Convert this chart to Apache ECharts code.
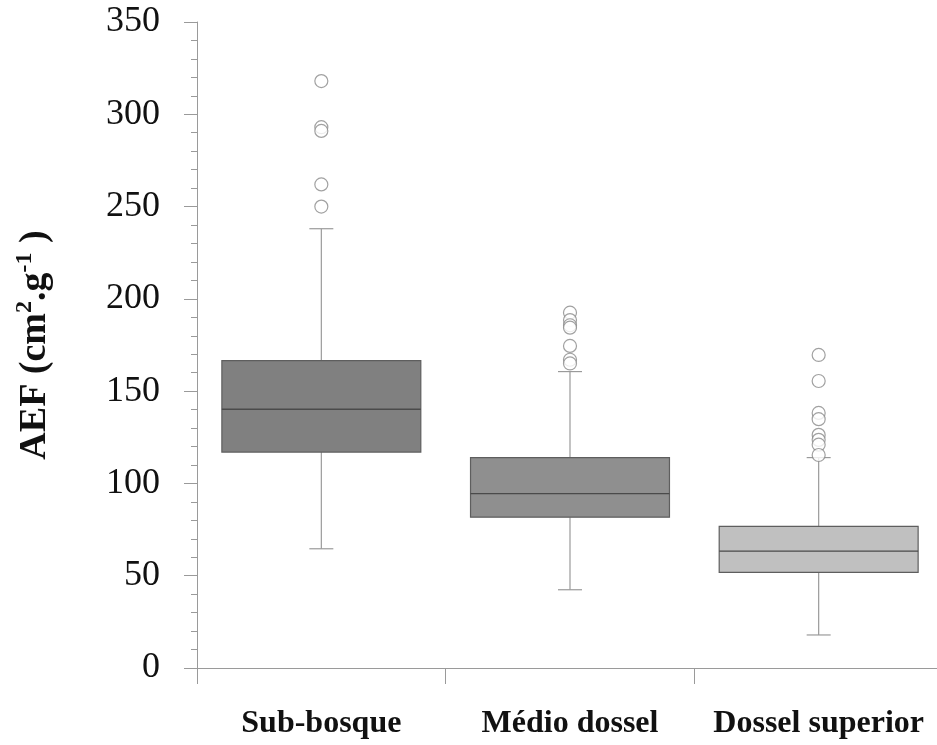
<!DOCTYPE html>
<html>
<head>
<meta charset="utf-8">
<title>AEF boxplot</title>
<script src="https://cdn.jsdelivr.net/npm/echarts@6/dist/echarts.min.js"></script>
<style>
  html, body { margin: 0; padding: 0; background: #fff; overflow: hidden; }
  #chart { width: 945px; height: 745px; }
</style>
</head>
<body>
<div id="chart"></div>
<script>
// estrato do dossel
var categories = ['Sub-bosque', 'Médio dossel', 'Dossel superior']
// resumo dos boxplots (cm2.g-1)
var whiskerLow = [64.6, 42.4, 17.9]
var q1 = [117, 81.7, 51.8]
var median = [140.2, 94.5, 63.3]
var q3 = [166.5, 114, 76.7]
var whiskerHigh = [238, 160.6, 114]
// pontos atipicos
var outliers = [
  [318, 293, 291, 262, 250],
  [192.5, 188.5, 185.7, 184.4, 174.5, 167, 165],
  [169.6, 155.5, 138.2, 134.8, 126.3, 123.6, 121, 115.4]
]
var yTicks = [0, 50, 100, 150, 200, 250, 300, 350]

var boxFill = ['#808080', '#8f8f8f', '#c0c0c0']
var font = 'Liberation Serif'

var boxData = categories.map(function (c, i) {
  return [i, whiskerLow[i], q1[i], median[i], q3[i], whiskerHigh[i]]
})
var outlierData = []
outliers.forEach(function (list, i) {
  list.forEach(function (v) { outlierData.push([i, v]) })
})

function renderBox(params, api) {
  var x = api.value(0)
  var pLow = api.coord([x, api.value(1)])
  var pQ1 = api.coord([x, api.value(2)])
  var pMed = api.coord([x, api.value(3)])
  var pQ3 = api.coord([x, api.value(4)])
  var pHigh = api.coord([x, api.value(5)])
  var bw = api.size([1, 0])[0] * 0.8
  var cx = pMed[0]
  var cap = 12
  var whiskerStyle = { stroke: '#9a9a9a', lineWidth: 1.2 }
  return {
    type: 'group',
    children: [
      { type: 'line', shape: { x1: cx, y1: pHigh[1], x2: cx, y2: pQ3[1] }, style: whiskerStyle },
      { type: 'line', shape: { x1: cx, y1: pQ1[1], x2: cx, y2: pLow[1] }, style: whiskerStyle },
      { type: 'line', shape: { x1: cx - cap, y1: pHigh[1], x2: cx + cap, y2: pHigh[1] }, style: whiskerStyle },
      { type: 'line', shape: { x1: cx - cap, y1: pLow[1], x2: cx + cap, y2: pLow[1] }, style: whiskerStyle },
      {
        type: 'rect',
        shape: { x: cx - bw / 2, y: pQ3[1], width: bw, height: pQ1[1] - pQ3[1] },
        style: { fill: boxFill[params.dataIndex], stroke: '#5e5e5e', lineWidth: 1.2 }
      },
      { type: 'line', shape: { x1: cx - bw / 2, y1: pMed[1], x2: cx + bw / 2, y2: pMed[1] }, style: { stroke: '#4a4a4a', lineWidth: 1.4 } }
    ]
  }
}

var chart = echarts.init(document.getElementById('chart'))
chart.setOption({
  animation: false,
  backgroundColor: '#fff',
  grid: { left: 197, right: 2, top: 22, bottom: 77 },
  xAxis: {
    type: 'category',
    data: categories,
    boundaryGap: true,
    axisLine: { lineStyle: { color: '#9a9a9a', width: 1 } },
    axisTick: { show: true, interval: 0, length: 16, lineStyle: { color: '#9a9a9a' } },
    axisLabel: {
      interval: 0,
      hideOverlap: false,
      color: '#111',
      fontFamily: font,
      fontWeight: 'bold',
      fontSize: 32,
      margin: 40
    },
    splitLine: { show: false }
  },
  yAxis: {
    type: 'value',
    min: yTicks[0],
    max: yTicks[yTicks.length - 1],
    interval: 50,
    name: 'AEF (cm{sup|2}.g{sup|-1} )',
    nameLocation: 'middle',
    nameGap: 140,
    nameRotate: 90,
    nameTextStyle: {
      color: '#111',
      fontFamily: font,
      fontWeight: 'bold',
      fontSize: 38,
      rich: {
        sup: {
          fontFamily: font,
          fontWeight: 'bold',
          fontSize: 24,
          color: '#111',
          verticalAlign: 'top',
          padding: [0, 0, 20, 0]
        }
      }
    },
    axisLine: { show: true, lineStyle: { color: '#9a9a9a', width: 1 } },
    axisTick: { show: true, length: 13, lineStyle: { color: '#9a9a9a' } },
    minorTick: { show: true, splitNumber: 5, length: 6, lineStyle: { color: '#9a9a9a' } },
    axisLabel: {
      color: '#111',
      fontFamily: font,
      fontSize: 36,
      margin: 37
    },
    splitLine: { show: false }
  },
  series: [
    {
      type: 'custom',
      renderItem: renderBox,
      data: boxData,
      encode: { x: 0, y: [1, 2, 3, 4, 5] },
      z: 2
    },
    {
      type: 'scatter',
      data: outlierData,
      symbol: 'circle',
      symbolSize: 13,
      itemStyle: { color: '#fff', borderColor: '#8a8a8a', borderWidth: 1.2 },
      z: 3
    }
  ]
})
</script>
</body>
</html>
